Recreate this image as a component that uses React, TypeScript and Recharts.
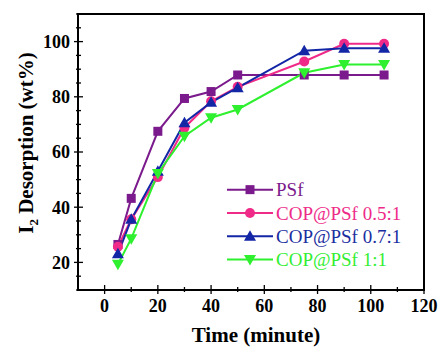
import React from 'react';
import { LineChart, Line, XAxis, YAxis, ReferenceArea, Legend } from 'recharts';

const times = [5, 10, 20, 30, 40, 50, 75, 90, 105];
const psf = [26.5, 43.2, 67.5, 79.4, 81.9, 87.9, 87.9, 87.9, 87.9];
const cop05 = [25.7, 35.6, 50.9, 68.8, 78.4, 83.6, 92.8, 99.2, 99.2];
const cop07 = [23.1, 35.6, 53.0, 70.6, 78.0, 83.3, 96.7, 97.6, 97.6];
const cop11 = [19.3, 28.6, 52.2, 65.7, 72.4, 75.4, 88.7, 91.7, 91.7];

const xTicks = [0, 10, 20, 30, 40, 50, 60, 70, 80, 90, 100, 110, 120];
const yTicks = [10, 15, 20, 25, 30, 35, 40, 45, 50, 55, 60, 65, 70, 75, 80, 85, 90, 95, 100, 105, 110];

const seriesNames = ['PSf', 'COP@PSf 0.5:1', 'COP@PSf 0.7:1', 'COP@PSf 1:1'];
const seriesKeys = ['psf', 'cop05', 'cop07', 'cop11'];
const seriesColors = ['#7B1A8C', '#F02A88', '#1226A6', '#2EF02E'];
const seriesText = ['#7B1A8C', '#EE2A88', '#1A2EA0', '#33EE33'];
const seriesShapes = ['square', 'circle', 'triangle', 'down'];

const data = times.map((t, i) => ({
  t,
  psf: psf[i],
  cop05: cop05[i],
  cop07: cop07[i],
  cop11: cop11[i],
}));

const FONT = "'Liberation Serif', 'Times New Roman', serif";

function Marker({ shape, cx, cy, color }: { shape: string; cx: number; cy: number; color: string }) {
  if (shape === 'square') return <rect x={cx - 4.5} y={cy - 4.5} width={9} height={9} fill={color} />;
  if (shape === 'circle') return <circle cx={cx} cy={cy} r={5} fill={color} />;
  if (shape === 'triangle')
    return <polygon points={`${cx},${cy - 6} ${cx - 6},${cy + 4.5} ${cx + 6},${cy + 4.5}`} fill={color} />;
  return <polygon points={`${cx},${cy + 6} ${cx - 6},${cy - 4.5} ${cx + 6},${cy - 4.5}`} fill={color} />;
}

const makeDot = (idx: number) => (props: any) => {
  const { cx, cy, index } = props;
  if (cx == null || cy == null) return <g key={`d${idx}-${index}`} />;
  return (
    <g key={`d${idx}-${index}`}>
      <Marker shape={seriesShapes[idx]} cx={cx} cy={cy} color={seriesColors[idx]} />
    </g>
  );
};

const YTick = (props: any) => {
  const { x, y, payload } = props;
  const v = payload.value;
  const major = v % 20 === 0;
  return (
    <g>
      <line x1={x - (major ? 4 : 2)} x2={x + (major ? 5 : 3)} y1={y} y2={y} stroke="#000" strokeWidth={1.3} />
      {major && v >= 20 && v <= 100 ? (
        <text x={x - 8} y={y} dy="0.35em" textAnchor="end" fontFamily={FONT} fontWeight="bold" fontSize={18} fill="#000">
          {v}
        </text>
      ) : null}
    </g>
  );
};

const XTick = (props: any) => {
  const { x, y, payload } = props;
  const v = payload.value;
  const major = v % 20 === 0;
  return (
    <g>
      <line x1={x} x2={x} y1={y + (major ? 4 : 2)} y2={y - (major ? 5 : 3)} stroke="#000" strokeWidth={1.3} />
      {major ? (
        <text x={x} y={y + 22} textAnchor="middle" fontFamily={FONT} fontWeight="bold" fontSize={18} fill="#000">
          {v}
        </text>
      ) : null}
    </g>
  );
};

const ROW = 23.3;
const LegendContent = () => (
  <svg width={200} height={ROW * 4} style={{ display: 'block' }}>
    {seriesNames.map((n, i) => {
      const cy = ROW * i + ROW / 2;
      return (
        <g key={n}>
          <line x1={0} x2={46} y1={cy} y2={cy} stroke={seriesColors[i]} strokeWidth={2} />
          <Marker shape={seriesShapes[i]} cx={23} cy={cy} color={seriesColors[i]} />
          <text x={49} y={cy} dy="0.35em" fontFamily={FONT} fontSize={19} fill={seriesText[i]}>
            {n}
          </text>
        </g>
      );
    })}
  </svg>
);

const YLabel = () => (
  <text
    transform="translate(33,143) rotate(-90)"
    textAnchor="middle"
    fontFamily={FONT}
    fontWeight="bold"
    fontSize={21}
    fill="#000"
  >
    I<tspan fontSize={13} dy={5}>2</tspan>
    <tspan dy={-5}> Desorption (wt%)</tspan>
  </text>
);

const XLabel = (props: any) => {
  const vb = props.viewBox || {};
  const cx = (vb.x ?? 78) + (vb.width ?? 346) / 2 + 5;
  return (
    <text x={cx} y={342} textAnchor="middle" fontFamily={FONT} fontWeight="bold" fontSize={21} fill="#000">
      Time (minute)
    </text>
  );
};

export default function App() {
  return (
    <div style={{ position: 'absolute', left: 0, top: 0, width: 440, height: 349, background: '#fff' }}>
      <LineChart width={440} height={349} data={data} margin={{ top: 14, right: 16, bottom: 29, left: 38 }}>
        <XAxis
          dataKey="t"
          type="number"
          domain={[-10, 120]}
          ticks={xTicks}
          interval={0}
          tick={<XTick />}
          tickLine={false}
          tickSize={0}
          tickMargin={0}
          axisLine={false}
          height={30}
          allowDataOverflow
          label={<XLabel />}
        />
        <YAxis
          type="number"
          domain={[10, 110]}
          ticks={yTicks}
          interval={0}
          tick={<YTick />}
          tickLine={false}
          tickSize={0}
          tickMargin={0}
          axisLine={false}
          width={40}
          allowDataOverflow
          label={<YLabel />}
        />
        <ReferenceArea x1={-10} x2={120} y1={10} y2={110} fill="none" stroke="#000" strokeWidth={2} ifOverflow="visible" />
        {seriesKeys.map((k, i) => (
          <Line
            key={k}
            dataKey={k}
            name={seriesNames[i]}
            stroke={seriesColors[i]}
            strokeWidth={2}
            dot={makeDot(i)}
            activeDot={false}
            isAnimationActive={false}
          />
        ))}
        <Legend
          layout="vertical"
          align="center"
          verticalAlign="middle"
          content={<LegendContent />}
          wrapperStyle={{ position: 'absolute', left: 227, top: 178, width: 200 }}
        />
      </LineChart>
    </div>
  );
}
